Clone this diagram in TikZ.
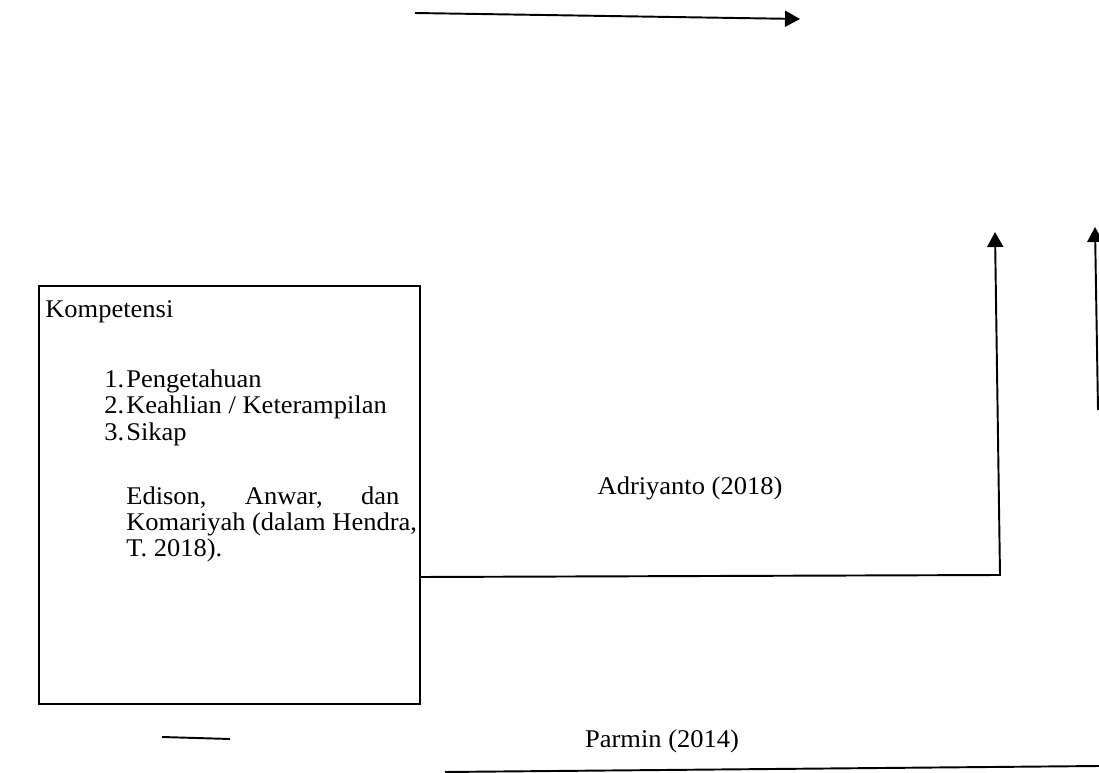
\documentclass[tikz,border=0pt]{standalone}
\usepackage{fontspec}
\setmainfont{Liberation Serif}[FakeStretch=1.04]
\usetikzlibrary{arrows.meta}

\tikzset{
  line/.style={line width=1.1pt},
  arr/.style={line, -{Triangle[length=3mm, width=3.2mm]}},
  txt/.style={inner sep=0pt, anchor=base west},
}

\begin{document}
\begin{tikzpicture}[x=0.02cm, y=-0.02cm, font=\fontsize{14.5}{16.5}\selectfont]
      \useasboundingbox (0,0) rectangle (1099,773);

      % Top arrow
      \coordinate (topa) at (415,13);
      \coordinate (topb) at (800,19);
      \draw[arr] (topa) -- (topb);

      % Competence box
      \node[draw, line, minimum width=7.62cm, minimum height=8.36cm,
            anchor=north west, inner sep=0pt] (komp) at (38,285) {};
      \node[txt] (judul) at (45,318) {Kompetensi};

      % List items
      \foreach \i/\nama in {1/Pengetahuan, 2/{Keahlian / Keterampilan}, 3/Sikap} {
          \node[txt] (num\i) at (104,{362+26*\i}) {\i.};
          \node[txt] (butir\i) at (126,{362+26*\i}) {\nama};
        }

      % Source
      \node[txt] (sumber1) at (126,504) {\makebox[5.46cm][s]{Edison, Anwar, dan}};
      \node[txt] (sumber2) at (126,530) {Komariyah (dalam Hendra,};
      \node[txt] (sumber3) at (126,556) {T. 2018).};

      % Connector to the right
      \coordinate (sudut) at (1000,575);
      \coordinate (ujung) at (995,232);
      \draw[arr] (komp.east |- 0,577) -- (sudut) -- (ujung);
      \node (adri) at (690,488) {Adriyanto (2018)};

      % Far right arrow
      \coordinate (kanan1) at (1098,410);
      \coordinate (kanan2) at (1095,227);
      \draw[arr] (kanan1) -- (kanan2);

      % Bottom lines
      \coordinate (pendek1) at (162,737);
      \coordinate (pendek2) at (230,739);
      \draw[line] (pendek1) -- (pendek2);
      \node (parmin) at (662,741) {Parmin (2014)};
      \coordinate (bawah1) at (445,772);
      \coordinate (bawah2) at (1099,766);
      \draw[line] (bawah1) -- (bawah2);
    \end{tikzpicture}
\end{document}
